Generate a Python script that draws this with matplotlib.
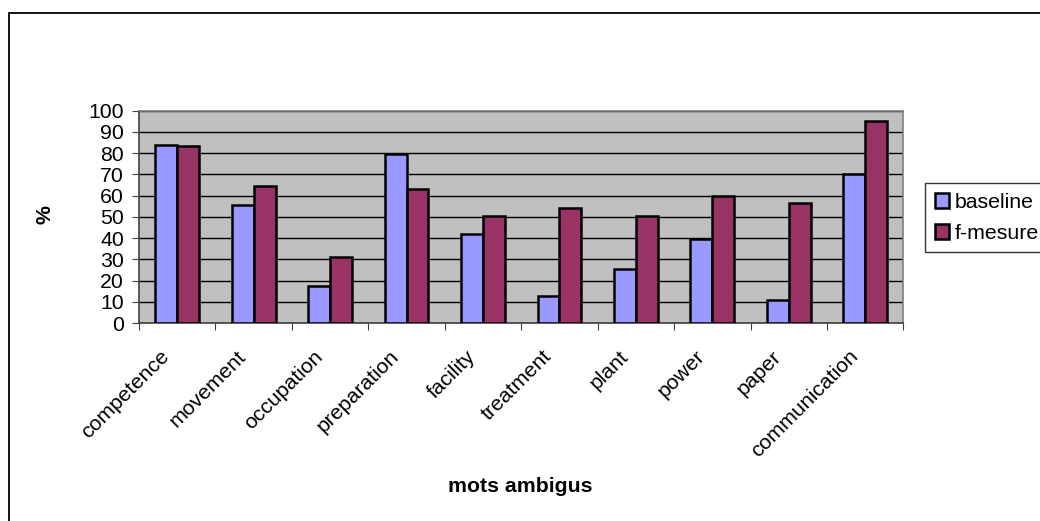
import matplotlib
matplotlib.use("Agg")
import matplotlib.pyplot as plt
import numpy as np
from matplotlib.patches import Rectangle

words = ["competence", "movement", "occupation", "preparation", "facility",
         "treatment", "plant", "power", "paper", "communication"]
baseline = [84, 55.6, 17.6, 79.6, 42, 12.5, 25.4, 39.7, 11, 70.2]
fmesure = [83.5, 64.6, 31, 63, 50.2, 54, 50.2, 60, 56.4, 95.1]

plt.rcParams["font.family"] = ["Liberation Sans", "DejaVu Sans"]
FS = 15.3

fig = plt.figure(figsize=(10.4, 5.21), dpi=100)
ax = fig.add_axes([0.1337, 0.380, 0.735, 0.4075])
ax.set_facecolor("#C0C0C0")

x = np.arange(len(words))
w = 0.286
ax.bar(x - w / 2, baseline, w, color="#9999FF", edgecolor="black",
       linewidth=1.8, label="baseline", zorder=3)
ax.bar(x + w / 2, fmesure, w, color="#993366", edgecolor="black",
       linewidth=1.8, label="f-mesure", zorder=3)

ax.set_xlim(-0.5, len(words) - 0.5)
ax.set_ylim(0, 100)
ax.set_yticks(range(0, 101, 10))
ax.yaxis.grid(True, color="black", linewidth=1, zorder=1)
ax.set_axisbelow(True)

# category ticks sit on the boundaries, labels on the centres
ax.set_xticks(np.arange(len(words) + 1) - 0.5)
ax.set_xticklabels([])
ax.tick_params(axis="x", length=5, color="#404040", direction="out")
ax.tick_params(axis="y", length=5, color="#404040", labelsize=FS, pad=6)
for i, lab in enumerate(words):
    ax.annotate(lab, xy=(i, 0), xycoords=("data", "axes fraction"),
                xytext=(-7.5, -22), textcoords="offset points",
                rotation=45, rotation_mode="anchor", ha="right", va="center",
                fontsize=FS)

for s in ("left", "bottom"):
    ax.spines[s].set_color("#404040")
for s in ("top", "right"):
    ax.spines[s].set_color("#808080")
for s in ax.spines.values():
    s.set_linewidth(1.2)

fig.text(45 / 1040, 1 - 215 / 521, "%", rotation=90, fontsize=FS,
         fontweight="bold", ha="center", va="center")
fig.text(520 / 1040, 1 - 487 / 521, "mots ambigus", fontsize=FS,
         fontweight="bold", ha="center", va="center")

leg = fig.legend(loc="upper left", bbox_to_anchor=(925 / 1040, 1 - 183 / 521),
                 frameon=True, fancybox=False, fontsize=FS,
                 handlelength=0.7, handleheight=0.7, handletextpad=0.25,
                 borderpad=0.45, labelspacing=0.58, borderaxespad=0)
leg.get_frame().set_edgecolor("black")
leg.get_frame().set_linewidth(1)
for h in leg.legend_handles:
    h.set_linewidth(1.8)

# outer chart border (extends past the right and bottom edges)
fig.patches.append(Rectangle((8.5 / 1040, -0.1), 1.2, 1 - 12.5 / 521 + 0.1,
                             transform=fig.transFigure, fill=False,
                             edgecolor="black", linewidth=1.3))

fig.savefig("out.png", dpi=100)
